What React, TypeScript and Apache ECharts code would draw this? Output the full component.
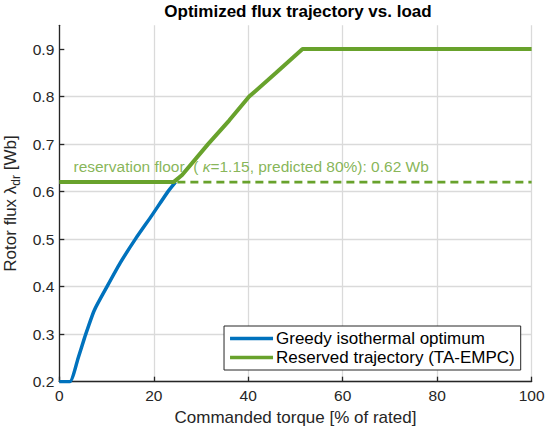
import React, { useEffect, useRef } from "react";
import * as echarts from "echarts";

const torqueGreedy = [0, 2.2, 4.0, 5.6, 7.4, 10.1, 12.9, 16.1, 19.6, 23.0, 24.6];
const fluxGreedy = [0.2, 0.2, 0.25, 0.3, 0.35, 0.4, 0.45, 0.5, 0.55, 0.6, 0.62];
const torqueReserved = [0, 24.2, 26, 31.5, 36, 40.2, 45.9, 51.5, 100];
const fluxReserved = [0.62, 0.62, 0.635, 0.7, 0.75, 0.8, 0.85, 0.9, 0.9];
const floorTorque = [25, 100];
const floorFlux = [0.62, 0.62];
const floorLabelPos = [3, 0.653];
const yTicks = [0.2, 0.3, 0.4, 0.5, 0.6, 0.7, 0.8, 0.9];

const BLUE = "#0072BD";
const GREEN = "#68A22C";
const INK = "#262626";
const GRID = "#dadada";
const FONT = "'Liberation Sans', Arial, Helvetica, sans-serif";

const zip = (a: number[], b: number[]) => a.map((v, i) => [v, b[i]]);

export default function App() {
  const ref = useRef<HTMLDivElement>(null);
  useEffect(() => {
    if (!ref.current) return;
    const chart = echarts.init(ref.current, undefined, { renderer: "svg" });
    chart.setOption({
      animation: false,
      backgroundColor: "#fff",
      textStyle: { fontFamily: FONT },
      title: {
        text: "Optimized flux trajectory vs. load",
        left: 298,
        textAlign: "center",
        top: 3,
        padding: 0,
        textStyle: { fontFamily: FONT, fontSize: 17, fontWeight: "bold", color: "#000" },
      },
      grid: { left: 59.3, right: 18.4, top: 25.3, bottom: 47.3, containLabel: false, outerBoundsMode: "none" },
      xAxis: {
        type: "value",
        min: 0,
        max: 100,
        interval: 20,
        name: "Commanded torque [% of rated]",
        nameLocation: "middle",
        nameGap: 23,
        nameTextStyle: { fontFamily: FONT, fontSize: 17, color: INK },
        axisLine: { show: true, onZero: false, lineStyle: { color: INK, width: 1.3 } },
        axisTick: { show: true, inside: true, length: 5, lineStyle: { color: INK, width: 1.3 } },
        axisLabel: { fontFamily: FONT, fontSize: 15.5, color: INK, margin: 6 },
        splitLine: { show: true, lineStyle: { color: GRID, width: 1.3 } },
      },
      yAxis: {
        type: "value",
        min: 0.2,
        max: 0.95,
        interval: 0.1,
        name: "{a|Rotor flux λ}{s|dr}{a| [Wb]}",
        nameLocation: "middle",
        nameGap: 33,
        nameTextStyle: {
          fontFamily: FONT,
          color: INK,
          rich: {
            a: { fontFamily: FONT, fontSize: 17, color: INK, lineHeight: 22 },
            s: { fontFamily: FONT, fontSize: 12, color: INK, lineHeight: 12, padding: [10, 0, 0, 0] },
          },
        },
        axisLine: { show: true, onZero: false, lineStyle: { color: INK, width: 1.3 } },
        axisTick: { show: true, inside: true, length: 5, lineStyle: { color: INK, width: 1.3 }, customValues: yTicks },
        axisLabel: {
          fontFamily: FONT,
          fontSize: 15.5,
          color: INK,
          margin: 5,
          customValues: yTicks,
          formatter: (v: number) => v.toFixed(1),
        },
        splitLine: { show: true, showMaxLine: false, lineStyle: { color: GRID, width: 1.3 } },
      },
      legend: {
        orient: "vertical",
        right: 29.3,
        bottom: 59,
        padding: [3, 6, 3, 6],
        itemGap: 0,
        itemWidth: 43,
        itemHeight: 3.5,
        borderColor: INK,
        borderWidth: 1,
        borderRadius: 0,
        backgroundColor: "#fff",
        textStyle: { fontFamily: FONT, fontSize: 17, color: "#000", lineHeight: 19, padding: [0, 0, 0, -2] },
        data: [
          { name: "Greedy isothermal optimum", icon: "rect", itemStyle: { color: BLUE } },
          { name: "Reserved trajectory (TA-EMPC)", icon: "rect", itemStyle: { color: GREEN } },
        ],
      },
      series: [
        {
          name: "Greedy isothermal optimum",
          type: "line",
          data: zip(torqueGreedy, fluxGreedy),
          showSymbol: false,
          symbol: "none",
          smooth: 0.2,
          lineStyle: { color: BLUE, width: 3.5 },
          itemStyle: { color: BLUE },
          z: 2,
        },
        {
          name: "floor",
          type: "line",
          data: zip(floorTorque, floorFlux),
          showSymbol: false,
          symbol: "none",
          lineStyle: { color: GREEN, width: 2.8, type: [8, 5] },
          z: 3,
        },
        {
          name: "Reserved trajectory (TA-EMPC)",
          type: "line",
          data: zip(torqueReserved, fluxReserved),
          showSymbol: false,
          symbol: "none",
          lineStyle: { color: GREEN, width: 4 },
          itemStyle: { color: GREEN },
          z: 4,
        },
        {
          name: "label",
          type: "scatter",
          data: [floorLabelPos],
          symbolSize: 0,
          silent: true,
          label: {
            show: true,
            position: "right",
            distance: 0,
            formatter: "{t|reservation floor\u00a0\u00a0(\u00a0}{i|κ}{t|=1.15, predicted 80%): 0.62 Wb}",
            rich: {
              t: { fontFamily: FONT, fontSize: 15.5, color: GREEN },
              i: { fontFamily: FONT, fontSize: 15.5, color: GREEN, fontStyle: "italic" },
            },
          },
          z: 5,
        },
      ],
    });
    return () => chart.dispose();
  }, []);
  return <div ref={ref} style={{ position: "absolute", left: 0, top: 0, width: 550, height: 429 }} />;
}
